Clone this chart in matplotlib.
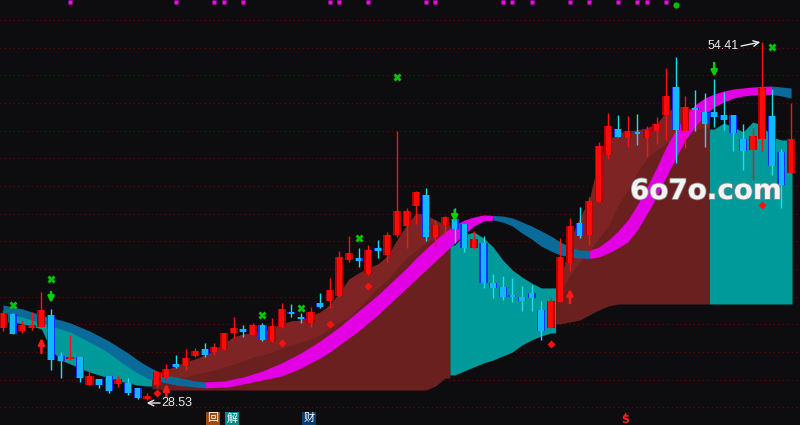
import numpy as np
import matplotlib.pyplot as plt
from matplotlib import patheffects

nan = np.nan

# daily candles (red = up, blue = down)
opens = [33.74, 34.75, 33.52, 33.74, 33.81, 34.68, 31.71, 31.49, 31.64, 29.61,
         30.05, 30.27, 29.69, 29.76, 29.40, 28.62, 29.61, 30.19, 31.13, 30.99,
         31.71, 32.22, 32.00, 32.22, 33.37, 33.66, 33.23, 33.95, 32.80, 33.81,
         34.89, 34.53, 34.10, 35.54, 35.69, 36.05, 38.65, 38.80, 37.64, 39.52,
         39.01, 40.46, 41.11, 42.56, 43.35, 40.31, 41.18, 41.62, 41.25, 39.52,
         39.88, 36.99, 36.70, 36.12, 35.98, 36.27, 35.04, 33.74, 35.62, 38.44,
         41.33, 40.46, 42.85, 46.24, 48.12, 47.47, 47.91, 47.47, 47.98, 49.14,
         51.16, 47.98, 49.57, 49.35, 49.35, 49.14, 49.14, 47.40, 46.60, 47.40,
         49.06, 46.46, 44.94]
highs = [35.04, 34.80, 34.24, 34.89, 36.34, 35.11, 32.00, 33.23, 31.64, 30.63,
         30.05, 30.27, 30.27, 30.12, 29.40, 29.05, 30.60, 31.13, 31.78, 32.22,
         32.30, 32.65, 32.65, 33.40, 34.53, 33.95, 34.10, 34.10, 34.46, 35.54,
         35.47, 34.82, 35.25, 36.27, 37.35, 39.30, 40.39, 39.52, 39.74, 40.10,
         40.68, 47.98, 42.41, 43.64, 43.86, 41.54, 41.83, 42.41, 41.25, 40.75,
         40.39, 37.64, 37.50, 37.35, 36.77, 36.84, 35.69, 35.98, 40.24, 41.69,
         42.48, 43.21, 47.18, 49.28, 49.14, 49.06, 49.21, 48.34, 48.99, 52.53,
         53.33, 50.51, 50.94, 50.73, 51.74, 50.80, 49.14, 48.48, 48.20, 54.41,
         51.02, 46.68, 50.00]
lows = [33.52, 33.30, 33.37, 33.59, 33.80, 30.70, 30.12, 31.42, 29.83, 29.61,
        29.40, 29.04, 29.47, 28.89, 28.60, 28.53, 29.50, 29.98, 30.84, 30.70,
        31.64, 31.64, 31.78, 32.15, 33.01, 33.08, 33.23, 32.80, 32.73, 33.74,
        34.53, 34.10, 33.81, 35.18, 35.18, 35.98, 38.51, 38.15, 37.57, 38.80,
        38.51, 40.31, 39.52, 41.25, 40.03, 39.59, 40.46, 39.88, 39.23, 39.45,
        36.63, 35.90, 35.76, 35.62, 34.96, 34.96, 32.87, 33.74, 35.62, 37.86,
        40.24, 39.74, 42.85, 45.95, 47.54, 46.82, 46.97, 46.10, 47.04, 47.33,
        45.67, 46.75, 47.98, 46.82, 48.27, 48.05, 46.53, 45.16, 44.44, 46.53,
        44.80, 42.41, 44.94]
closes = [34.82, 33.30, 33.95, 33.95, 35.04, 31.42, 31.35, 31.64, 30.12, 30.27,
          29.61, 29.18, 30.05, 29.04, 28.65, 28.85, 30.55, 30.77, 30.92, 31.57,
          32.07, 31.78, 32.36, 33.37, 33.74, 33.45, 33.95, 32.87, 33.88, 35.11,
          34.75, 34.39, 34.89, 35.25, 36.48, 38.87, 39.16, 38.58, 39.37, 39.30,
          40.46, 42.19, 42.19, 43.57, 40.31, 41.18, 41.76, 40.89, 39.52, 40.17,
          36.99, 36.63, 35.98, 35.98, 35.69, 35.90, 33.52, 35.69, 38.87, 41.11,
          40.39, 42.92, 46.89, 48.34, 47.54, 47.98, 47.76, 48.05, 48.48, 50.51,
          48.05, 49.71, 49.50, 48.48, 48.99, 48.77, 47.83, 46.53, 47.62, 51.09,
          45.45, 44.07, 47.40]

# trend ribbon (two slow averages)
ribbon_top = [35.40, 35.25, 35.11, 34.89, 34.68, 34.46, 34.31, 34.10, 33.81, 33.52,
              33.16, 32.80, 32.36, 31.93, 31.42, 30.99, 30.63, 30.34, 30.19, 30.05,
              29.90, 29.83, 29.87, 29.90, 30.05, 30.19, 30.41, 30.63, 30.92, 31.21,
              31.57, 31.93, 32.36, 32.80, 33.30, 33.81, 34.39, 34.96, 35.54, 36.12,
              36.77, 37.42, 38.07, 38.80, 39.45, 40.10, 40.68, 41.18, 41.54, 41.76,
              41.91, 41.87, 41.83, 41.69, 41.40, 41.11, 40.75, 40.39, 39.95, 39.59,
              39.37, 39.34, 39.59, 40.10, 40.75, 41.54, 42.63, 43.93, 45.30, 46.82,
              48.05, 49.14, 49.86, 50.36, 50.65, 50.87, 51.02, 51.09, 51.16, 51.20,
              51.23, 51.16, 51.09]
ribbon_bottom = [34.82, 34.68, 34.53, 34.31, 34.10, 33.88, 33.66, 33.45, 33.08, 32.72,
                 32.36, 31.93, 31.42, 30.92, 30.48, 30.12, 29.90, 29.76, 29.61, 29.54,
                 29.47, 29.40, 29.43, 29.47, 29.54, 29.69, 29.83, 29.98, 30.12, 30.27,
                 30.55, 30.84, 31.21, 31.57, 32.00, 32.51, 33.01, 33.52, 34.10, 34.68,
                 35.33, 35.98, 36.63, 37.28, 37.93, 38.58, 39.23, 39.88, 40.53, 41.11,
                 41.47, 41.54, 41.40, 41.11, 40.60, 40.17, 39.66, 39.30, 39.01, 38.87,
                 38.80, 38.76, 38.87, 39.16, 39.52, 39.95, 40.82, 41.98, 43.21, 44.65,
                 46.03, 47.33, 48.27, 49.14, 49.71, 50.08, 50.36, 50.51, 50.58, 50.62,
                 50.62, 50.51, 50.36]

# cloud band
cloud_top = [nan, 34.89, 34.75, 34.53, 34.31, 34.10, 33.88, 33.59, 33.30, 33.01,
             32.65, 32.29, 31.86, 31.35, 30.92, 30.55, 30.41, 30.70, 30.99, 31.28,
             31.49, 31.78, 32.15, 32.65, 33.08, 33.30, 33.37, 33.52, 33.74, 34.03,
             34.24, 34.31, 34.60, 34.89, 35.40, 36.27, 37.28, 37.71, 38.07, 38.36,
             38.94, 40.10, 41.18, 42.05, 41.91, 41.54, 41.18, 39.74, 40.46, 40.68,
             40.24, 39.59, 38.65, 37.93, 37.42, 36.99, 36.63, 36.63, 37.06, 40.10,
             41.69, 42.99, 45.88, 47.33, 47.83, 47.98, 48.05, 48.20, 48.48, 49.35,
             49.71, 49.71, 49.50, 49.35, 48.12, 48.56, 48.27, 47.91, 48.63, 48.41,
             47.54, 47.33, 47.33]
cloud_mid = [nan, nan, nan, nan, nan, nan, nan, nan, nan, nan,
             nan, nan, nan, nan, nan, nan, 29.83, 29.98, 30.12, 30.19,
             30.41, 30.55, 30.70, 30.92, 31.13, 31.35, 31.64, 31.78, 32.00, 32.29,
             32.51, 32.72, 32.94, 33.23, 33.74, 34.17, 34.53, 35.18, 35.90, 36.63,
             37.21, 38.07, 38.80, 39.37, 39.88, 40.24, 40.46, nan, nan, nan,
             nan, nan, nan, nan, nan, nan, nan, nan, 36.34, 37.57,
             38.51, 39.23, 40.24, 41.11, 42.63, 43.71, 45.01, 46.03, 46.60, 47.11,
             47.47, 47.76, 48.05, 48.27, nan, nan, nan, nan, nan, nan,
             nan, nan, nan]
cloud_bottom = [nan, 34.17, 34.03, 33.88, 33.66, 32.15, 31.42, 31.13, 30.84, 30.55,
                30.34, 30.12, 29.90, 29.76, 29.61, 29.54, 29.33, 29.25, 29.25, 29.25,
                29.25, 29.25, 29.25, 29.25, 29.25, 29.25, 29.25, 29.25, 29.25, 29.25,
                29.25, 29.25, 29.25, 29.25, 29.25, 29.25, 29.25, 29.25, 29.25, 29.25,
                29.25, 29.25, 29.25, 29.25, 29.25, 29.54, 30.12, 30.34, 30.63, 30.92,
                31.21, 31.42, 31.71, 32.00, 32.51, 32.87, 33.16, 33.37, 34.03, 34.17,
                34.31, 34.68, 35.04, 35.33, 35.47, 35.47, 35.47, 35.47, 35.47, 35.47,
                35.47, 35.47, 35.47, 35.47, 35.47, 35.47, 35.47, 35.47, 35.47, 35.47,
                35.47, 35.47, 35.47]
cloud_runs = [(1, 15, 'down'), (16, 46, 'up'), (47, 57, 'down'), (58, 73, 'up'), (74, 82, 'down')]

# signals
cross_idx = [1, 5, 27, 31, 37, 41, 80]
cross_val = [35.40, 37.28, 34.68, 35.18, 40.24, 51.88, 54.05]
sell_idx = [5, 47, 74]
sell_from = [36.34, 42.27, 52.90]
sell_to = [35.54, 41.40, 51.88]
buy_idx = [4, 17, 59]
buy_from = [31.93, 28.75, 35.54]
buy_to = [33.01, 29.69, 36.56]
dot_idx = [16, 29, 34, 38, 57, 79]
dot_val = [29.04, 32.65, 34.03, 36.77, 32.58, 42.63]
top_idx = [7, 18, 22, 23, 25, 34, 35, 38, 44, 45, 52, 53, 55, 59, 61, 64, 66, 67, 69]

BG = '#0d0d10'
fig = plt.figure(figsize=(8, 4.25), dpi=100, facecolor=BG)
ax = fig.add_axes([0, 0, 1, 1])
ax.set_facecolor(BG)
ax.set_xlim(-0.312, 82.93)
ax.set_ylim(26.72, 57.45)
ax.axis('off')

for p in range(28, 57, 2):
    ax.axhline(p, color='#7a0000', lw=0.8, ls=(0, (1, 3)), zorder=0)

x = np.arange(len(opens))
ct, cm, cb = np.array(cloud_top), np.array(cloud_mid), np.array(cloud_bottom)


def span(arr, i0, i1):
    xs = np.r_[i0 - 0.5, np.arange(i0, i1 + 1), min(i1 + 0.5, 82.1)]
    ys = np.r_[arr[i0], arr[i0:i1 + 1], arr[i1]]
    return xs, ys


for i0, i1, kind in cloud_runs:
    xs, top = span(ct, i0, i1)
    _, bot = span(cb, i0, i1)
    if kind == 'up':
        ax.fill_between(xs, bot, top, color='#6b2020', lw=0, zorder=1)
        _, mid = span(cm, i0, i1)
        ax.fill_between(xs, mid, top, color='#7e2424', lw=0, zorder=1.5)
    else:
        ax.fill_between(xs, bot, top, color='#009a9a', lw=0, zorder=1)

# ribbon: magenta when rising, blue when falling
rt, rb = np.array(ribbon_top), np.array(ribbon_bottom)
rising = np.diff((rt + rb) / 2) > 0
start = 0
for k in range(1, len(rising) + 1):
    if k == len(rising) or rising[k] != rising[start]:
        col = '#e400e4' if rising[start] else '#0a6b9b'
        ax.fill_between(x[start:k + 1], rb[start:k + 1], rt[start:k + 1],
                        color=col, lw=0, zorder=3)
        start = k

# candles
o, h, l, c = map(np.array, (opens, highs, lows, closes))
up = c >= o
lo = np.minimum(o, c)
hgt = np.maximum(np.abs(c - o), 0.14)
ax.vlines(x[up], l[up], h[up], color='#ff1010', lw=1, zorder=5)
ax.vlines(x[~up], l[~up], h[~up], color='#20dcf0', lw=1, zorder=5)
ax.bar(x[up], hgt[up], 0.84, lo[up], color='#b00000', lw=0, zorder=6)
ax.bar(x[up], hgt[up], 0.5, lo[up], color='#ff0a0a', lw=0, zorder=7)
ax.bar(x[~up], hgt[~up], 0.84, lo[~up], color='#1430ff', lw=0, zorder=6)
ax.bar(x[~up], hgt[~up], 0.58, lo[~up], color='#10b8ff', lw=0, zorder=7)

# markers
ax.plot(cross_idx, cross_val, 'X', ms=5.5, color='#00c800', mec='none', zorder=8)
ax.plot(dot_idx, dot_val, 'D', ms=4, color='#ff1010', mec='none', zorder=8)
ax.plot(top_idx, [57.27] * len(top_idx), 's', ms=2.6, color='#ff00ff', mec='none', zorder=8)
ax.plot([70], [57.1], 'o', ms=4.5, color='#00c000', mec='none', zorder=8)
for i, a, b in zip(sell_idx, sell_from, sell_to):
    ax.annotate('', xy=(i, b), xytext=(i, a), zorder=9,
                arrowprops=dict(arrowstyle='-|>', color='#00d000', lw=1.8,
                                mutation_scale=9, shrinkA=0, shrinkB=0))
for i, a, b in zip(buy_idx, buy_from, buy_to):
    ax.annotate('', xy=(i, b), xytext=(i, a), zorder=9,
                arrowprops=dict(arrowstyle='-|>', color='#ff1a1a', lw=1.8,
                                mutation_scale=9, shrinkA=0, shrinkB=0))

# low / high labels
ax.annotate('', xy=(14.95, 28.31), xytext=(16.35, 28.31), zorder=9,
            arrowprops=dict(arrowstyle='->', color='#e8e8e8', lw=1, shrinkA=0, shrinkB=0))
ax.text(16.45, 28.31, '28.53', color='#e8e8e8', fontsize=9, family='Liberation Sans',
        va='center', ha='left', zorder=9)
ax.text(73.35, 54.12, '54.41', color='#e8e8e8', fontsize=9, family='Liberation Sans',
        va='center', ha='left', zorder=9)
ax.annotate('', xy=(78.8, 54.41), xytext=(76.8, 54.12), zorder=9,
            arrowprops=dict(arrowstyle='->', color='#e8e8e8', lw=1, shrinkA=0, shrinkB=0))

# watermark
fig.text(630 / 800, 1 - 191 / 425, '6o7o.com', color='#f4f4f4', fontsize=20,
         fontweight='bold', family='DejaVu Sans', va='center', ha='left', zorder=10,
         path_effects=[patheffects.withStroke(linewidth=1.2, foreground='#8a8a8a')])

# bottom icons
cjk = ['Noto Sans CJK SC', 'DejaVu Sans']
for xi, ch, bg in [(21.85, '回', '#9a4a12'), (23.83, '解', '#008a8a'), (31.84, '财', '#0a3a6e')]:
    ax.text(xi, 27.2, ch, color='white', fontsize=8, family=cjk, ha='center', va='center',
            zorder=10, bbox=dict(boxstyle='square,pad=0.12', fc=bg, ec='none'))
ax.text(64.7, 27.05, 'S', color='#ff2020', fontsize=8, fontweight='bold', ha='center',
        va='center', zorder=10)
ax.plot([64.7], [27.55], '^', ms=3, color='#ff2020', mec='none', zorder=10)

plt.savefig('out.png', dpi=100, facecolor=BG)
